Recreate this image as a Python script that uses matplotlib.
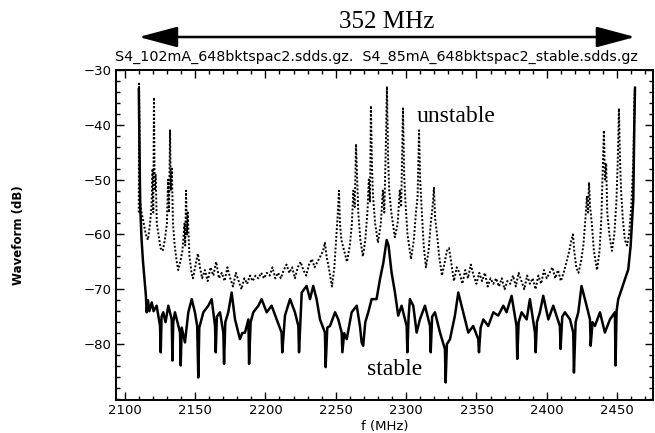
import numpy as np
import matplotlib.pyplot as plt
from matplotlib.ticker import MultipleLocator

# unstable beam spectrum (dotted trace)
f_unstable = [2110.0, 2110.2, 2110.6, 2111.0, 2112.0, 2113.5, 2115.0, 2116.5, 2118.0, 2119.0,
              2119.8, 2120.3, 2120.8, 2121.3, 2122.0, 2122.8, 2124.0, 2125.5, 2127.0, 2128.5,
              2130.0, 2130.8, 2131.5, 2132.2, 2132.8, 2133.5, 2134.3, 2135.5, 2137.0, 2138.0,
              2139.5, 2141.0, 2142.5, 2143.0, 2143.6, 2144.2, 2144.8, 2146.0, 2147.5, 2148.5,
              2150.0, 2152.0, 2153.5, 2155.0, 2157.0, 2159.0, 2161.0, 2163.0, 2165.0, 2167.0,
              2169.0, 2171.0, 2173.0, 2175.0, 2177.0, 2179.0, 2181.0, 2183.0, 2185.0, 2187.0,
              2189.0, 2191.0, 2193.0, 2195.0, 2197.0, 2199.0, 2201.0, 2203.0, 2205.0, 2207.0,
              2209.0, 2211.0, 2213.0, 2215.0, 2217.0, 2219.0, 2221.0, 2223.0, 2225.0, 2227.0,
              2229.0, 2231.0, 2233.0, 2235.0, 2237.0, 2239.0, 2241.0, 2242.3, 2243.5, 2245.0,
              2247.3, 2249.0, 2250.5, 2251.5, 2252.3, 2253.0, 2254.0, 2256.0, 2258.0, 2260.0,
              2261.5, 2262.5, 2263.5, 2264.4, 2265.2, 2266.0, 2267.5, 2269.3, 2271.0, 2272.5,
              2273.5, 2274.3, 2275.0, 2275.8, 2276.5, 2278.0, 2280.0, 2282.0, 2283.5, 2284.5,
              2285.5, 2286.4, 2287.2, 2288.0, 2289.5, 2292.0, 2294.0, 2295.5, 2296.5, 2297.8,
              2298.6, 2299.5, 2301.0, 2303.5, 2305.5, 2307.0, 2308.2, 2309.2, 2310.0, 2311.0,
              2312.5, 2314.1, 2316.0, 2317.5, 2318.8, 2319.8, 2320.6, 2322.0, 2323.5, 2325.5,
              2327.5, 2329.0, 2330.5, 2332.0, 2334.0, 2336.0, 2338.0, 2340.0, 2342.0, 2344.0,
              2346.0, 2348.0, 2350.0, 2352.0, 2354.0, 2356.0, 2358.0, 2360.0, 2362.0, 2364.0,
              2366.0, 2368.0, 2370.0, 2372.0, 2374.0, 2376.0, 2378.0, 2380.0, 2382.0, 2384.0,
              2386.0, 2388.0, 2390.0, 2392.0, 2394.0, 2396.0, 2398.0, 2400.0, 2402.0, 2404.0,
              2406.0, 2408.0, 2410.0, 2412.0, 2414.0, 2416.0, 2417.5, 2418.6, 2419.5, 2421.0,
              2422.5, 2424.3, 2426.0, 2427.5, 2428.5, 2429.3, 2430.0, 2430.8, 2432.0, 2433.5,
              2435.7, 2437.5, 2438.8, 2439.6, 2440.6, 2441.4, 2442.2, 2443.0, 2444.5, 2446.3,
              2448.0, 2449.5, 2450.4, 2451.3, 2452.0, 2452.8, 2454.0, 2455.5, 2457.0, 2458.5,
              2460.0, 2461.5, 2462.5, 2462.8]
db_unstable = [-56, -32.5, -45, -54, -56, -58, -60, -61, -58, -55,
               -48, -56, -35, -52, -49, -58, -60, -62.5, -63, -61,
               -58, -50, -56, -41, -52, -48, -58, -62, -65, -66.5,
               -65, -63, -58, -62, -52, -60, -56, -64, -67, -68,
               -66, -63.5, -66, -68, -66.5, -68.5, -66, -67.5, -65, -68,
               -67, -68.5, -66, -68, -69.5, -67, -68.5, -70, -68, -69,
               -67.5, -68.5, -67.5, -68, -67, -68, -67, -67.5, -66, -68,
               -67, -68, -66.5, -65.5, -67, -66, -68, -66, -65, -66.5,
               -67.5, -65.5, -64.5, -66, -65, -64, -63, -61.5, -64, -66,
               -69.5, -66, -60, -56, -52, -58, -61, -63, -65, -62,
               -58, -52, -55, -43.5, -50, -56, -61, -64, -61, -56,
               -50, -54, -36.5, -48, -53, -58, -61.5, -58, -52, -56,
               -45, -33, -46, -52, -56, -60.5, -58, -52, -55, -37,
               -49, -54, -60, -64.5, -61, -56, -53, -41, -50, -55,
               -62, -66, -63, -58, -55, -51.5, -57, -60, -64, -67.5,
               -65, -63, -62.5, -65, -68.5, -66, -67, -69, -66.5, -68,
               -65.5, -67.5, -69, -67, -68.5, -67, -69.5, -68, -69, -68,
               -69.5, -68, -70, -68.5, -69, -67.5, -69.5, -67, -68.5, -70,
               -67.5, -69, -68, -70, -67.5, -69, -66.5, -68, -67, -66,
               -68, -66.5, -68.5, -67, -65, -63, -61, -60, -63, -66,
               -67, -65, -62, -57, -53, -56, -50.5, -55, -58, -63,
               -66.5, -63, -57, -50, -41, -50, -47, -56, -60, -63,
               -60, -54, -47, -37, -46, -52, -57, -61, -62, -60,
               -55, -47, -34, -33]

# stable beam spectrum (solid trace)
f_stable = [2110.0, 2110.5, 2111.0, 2112.0, 2113.0, 2114.0, 2115.0, 2115.6, 2116.5, 2117.5,
            2119.2, 2120.5, 2122.7, 2124.0, 2125.1, 2125.6, 2126.2, 2127.4, 2129.0, 2131.0,
            2133.4, 2133.9, 2134.5, 2135.7, 2137.5, 2139.3, 2139.8, 2140.5, 2142.8, 2145.2,
            2147.6, 2149.9, 2151.5, 2152.3, 2153.0, 2155.9, 2159.4, 2161.8, 2164.2, 2164.7,
            2165.5, 2167.7, 2170.1, 2170.6, 2171.5, 2173.6, 2176.0, 2178.4, 2181.9, 2183.5,
            2185.5, 2187.9, 2188.4, 2189.5, 2191.4, 2195.0, 2197.3, 2200.9, 2204.4, 2208.0,
            2211.5, 2212.0, 2213.9, 2217.5, 2221.0, 2223.4, 2223.9, 2225.8, 2229.3, 2231.7,
            2234.0, 2236.4, 2238.8, 2242.3, 2242.8, 2244.0, 2245.9, 2249.5, 2251.8, 2254.2,
            2254.7, 2256.0, 2257.8, 2261.3, 2264.9, 2267.2, 2268.4, 2269.5, 2271.0, 2273.1,
            2275.5, 2279.0, 2281.4, 2283.8, 2286.2, 2287.5, 2289.7, 2292.1, 2294.4, 2296.8,
            2300.4, 2300.9, 2301.8, 2302.7, 2305.1, 2307.5, 2309.8, 2313.4, 2317.0, 2317.5,
            2318.5, 2320.5, 2324.1, 2327.6, 2328.1, 2329.0, 2331.2, 2334.7, 2337.1, 2340.6,
            2344.2, 2347.7, 2351.3, 2351.8, 2353.0, 2354.9, 2358.4, 2362.0, 2365.5, 2369.1,
            2371.4, 2375.0, 2378.5, 2379.0, 2380.0, 2382.1, 2385.7, 2388.0, 2391.6, 2392.1,
            2393.0, 2395.1, 2397.5, 2401.1, 2404.6, 2409.3, 2409.8, 2411.0, 2412.9, 2416.5,
            2418.8, 2419.3, 2420.5, 2422.4, 2424.7, 2428.3, 2430.7, 2431.2, 2432.5, 2434.2,
            2437.8, 2441.3, 2444.9, 2448.4, 2448.9, 2449.6, 2450.8, 2453.2, 2455.5, 2457.9,
            2459.6, 2461.5, 2462.2, 2462.7]
db_stable = [-33.5, -45, -55, -61, -65, -68, -71, -74.2, -72, -74,
             -72.4, -74, -73.0, -75, -76.7, -81.5, -75, -74.2, -76, -73.0,
             -75.5, -83.0, -76, -74.2, -76, -77.9, -83.9, -77, -79.7, -74.2,
             -71.8, -74.2, -76.7, -86.1, -77, -74.2, -73.0, -71.8, -76.7, -81.5,
             -75, -74.2, -77.9, -83.6, -76, -74.2, -70.6, -75.5, -79.1, -78,
             -77.9, -75.5, -83.6, -76, -74.2, -73.0, -71.8, -74.2, -73.0, -75.5,
             -77.9, -81.5, -74.8, -71.8, -74.2, -76.7, -81.5, -70.6, -69.4, -71.8,
             -69.4, -71.8, -75.5, -77.9, -84.2, -77, -76.7, -74.2, -75.5, -77.9,
             -81.5, -78, -79.1, -74.2, -73.0, -76.7, -79.7, -80.3, -76, -74.2,
             -71.8, -71.8, -68.2, -65.2, -61, -62, -67, -70.6, -74.8, -73.0,
             -76.7, -81.5, -75, -71.8, -73.0, -77.9, -75.5, -73.0, -76.7, -81.5,
             -75, -74.2, -77.9, -80.9, -87.0, -80, -79.1, -74.8, -70.6, -74.2,
             -77.9, -76.7, -79.1, -81.5, -77, -75.5, -76.7, -74.2, -74.8, -73.0,
             -74.2, -71.2, -76.7, -82.7, -76, -74.2, -75.5, -71.8, -77.9, -81.5,
             -76, -74.2, -71.2, -75.5, -73.0, -76.7, -80.9, -75, -74.2, -75.5,
             -77.9, -85.2, -76, -74.2, -69.4, -73.0, -75.5, -80.3, -76, -76.7,
             -74.2, -77.9, -75.5, -74.2, -83.9, -74, -71.8, -70.0, -68.2, -66.4,
             -62.1, -53.6, -40.3, -33.3]

x_ticks = [2100, 2150, 2200, 2250, 2300, 2350, 2400, 2450]
y_ticks = [-80, -70, -60, -50, -40, -30]

fig = plt.figure(figsize=(6.55, 4.33), dpi=100)
ax = fig.add_axes([116/655, 33/433, 537/655, 330/433])

ax.plot(f_stable, db_stable, color="black", lw=1.8)
ax.plot(f_unstable, db_unstable, color="black", lw=1.4, linestyle=(0, (1, 1)))

ax.set_xlim(2093.8, 2475.5)
ax.set_ylim(-90.2, -30)
ax.set_xticks(x_ticks)
ax.set_yticks(y_ticks)
ax.xaxis.set_minor_locator(MultipleLocator(10))
ax.yaxis.set_minor_locator(MultipleLocator(2))
ax.tick_params(which="both", direction="in", top=True, right=True, labelsize=9.5, width=1)
ax.tick_params(which="major", length=6, pad=3)
ax.tick_params(which="minor", length=3)
for s in ax.spines.values():
    s.set_linewidth(1.4)

ax.set_xlabel("f (MHz)", fontsize=9.5, labelpad=2)
fig.text(19/655, 1 - 235/433, "Waveform (dB)", rotation=90, fontsize=8.5,
         fontweight="bold", ha="center", va="center")

# span of the synchrotron sidebands
trans = ax.get_xaxis_transform()
ax.annotate("", xy=(f_unstable[0], 1.10), xytext=(f_unstable[-1], 1.10), xycoords=trans,
            textcoords=trans, annotation_clip=False,
            arrowprops=dict(arrowstyle="<|-|>,head_length=1.5,head_width=0.4",
                            mutation_scale=16, lw=1.8, color="black",
                            shrinkA=0, shrinkB=0))
ax.text(2286.4, 1.127, "352 MHz", transform=trans, ha="center", va="baseline",
        fontsize=18, family="Liberation Serif")
ax.text(-0.002, 1.04, "S4_102mA_648bktspac2.sdds.gz.  S4_85mA_648bktspac2_stable.sdds.gz",
        transform=ax.transAxes, ha="left", va="center", fontsize=10.3)

ax.text(2307.7, -39.5, "unstable", fontsize=17, family="Liberation Serif")
ax.text(2272.2, -85.6, "stable", fontsize=17, family="Liberation Serif")

plt.savefig("out.png", dpi=100)
